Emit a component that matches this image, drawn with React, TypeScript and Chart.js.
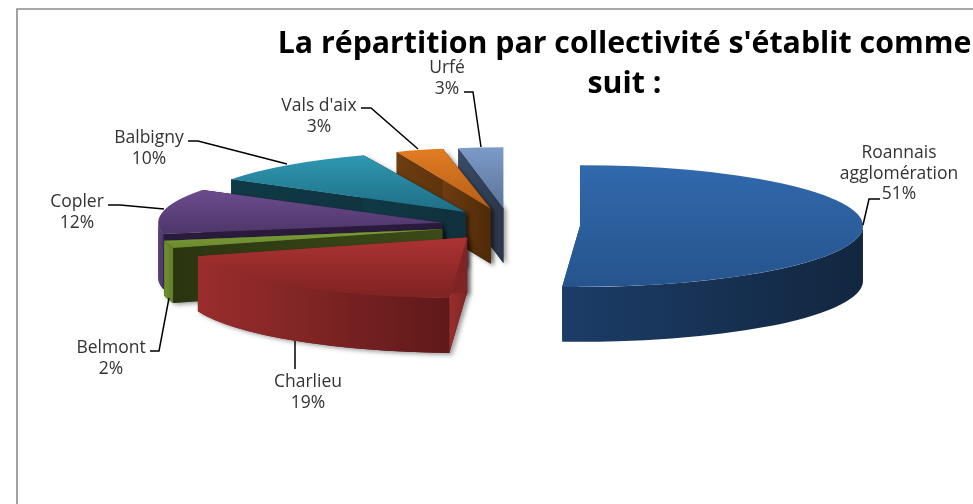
import React, { useEffect, useRef } from "react";
import Chart from "chart.js/auto";

const categories = ["Roannais agglomération", "Charlieu", "Belmont", "Copler", "Balbigny", "Vals d'aix", "Urfé"];
const shares = [51, 19, 2, 12, 10, 3, 3];
const titleLines = ["La répartition par collectivité s'établit comme", "suit :"];

// Style: [top light, top dark, wall left, wall right, cut face light, cut face dark]
const shades = [
  ["#3169ad", "#26548d", "#1c3d68", "#12263f", "#1c3d68", "#1c3d68"],
  ["#ac3333", "#7e2222", "#9a2d2d", "#5f1919", "#9a2e2e", "#7e2424"],
  ["#7c9c36", "#6c8b30", "#70912f", "#5f7f2a", "#2a3510", "#3c4a18"],
  ["#6d4c8e", "#4d3568", "#5c4079", "#4d3568", "#2a1a3c", "#2a1a3c"],
  ["#2f98b3", "#1e6e84", "#1c6477", "#14505f", "#0f3a46", "#10303c"],
  ["#e27c22", "#b55e18", "#6e3d10", "#4e2a08", "#6e3d10", "#4e2a08"],
  ["#7c9bc9", "#5b7499", "#3a4c66", "#2a3649", "#3a4c66", "#2a3649"],
];

// Perspective stand-ins: far slices look narrower and sit a little higher
const narrow = [1, 1, 1, 1, 0.98, 0.9, 0.85];
const lift = [0, 0, 0, 0, -2, -2.5, -2.5];
const castsShadow = [false, true, true, true, true, true, true];

// Painter's order, back to front
const drawOrder = [6, 5, 4, 3, 2, 1, 0];

// Label layout: text centre, first line middle y, leader polyline
const labelLayout = [
  { x: 899, y: 153, lines: ["Roannais", "agglomération"], leader: [[880, 199], [869, 199], [863, 225]] },
  { x: 308, y: 382, lines: ["Charlieu"], leader: [[295, 369], [295, 341]] },
  { x: 111, y: 348, lines: ["Belmont"], leader: [[150, 351], [159, 351], [169, 298]] },
  { x: 77, y: 202, lines: ["Copler"], leader: [[108, 205], [120, 205], [164, 209]] },
  { x: 149, y: 138, lines: ["Balbigny"], leader: [[188, 141], [198, 141], [287, 164]] },
  { x: 319, y: 106, lines: ["Vals d'aix"], leader: [[361, 108], [371, 108], [418, 149]] },
  { x: 447, y: 68, lines: ["Urfé"], leader: [[464, 92], [473, 92], [481, 147]] },
];

const PIE = { cx: 510, cy: 225.5, radius: 283, squash: 0.215, explode: 70, depth: 55 };
const LABEL_FONT = '17.5px "Open Sans"';

const pie3d = {
  id: "pie3d",
  beforeDatasetDraw(chart: any) {
    const ctx = chart.ctx as CanvasRenderingContext2D;
    const arcs = chart.getDatasetMeta(0).data;
    const { cx, cy, squash, explode, depth } = PIE;
    drawOrder.forEach((i) => {
      const el = arcs[i];
      const R = el.outerRadius;
      const s = el.startAngle;
      const e = el.endAngle;
      const mid = (s + e) / 2;
      const ax = cx + Math.cos(mid) * explode;
      const ay = cy + Math.sin(mid) * explode * squash + lift[i];
      const rim = (a: number) => [ax + Math.cos(a) * R * narrow[i], ay + Math.sin(a) * R * squash];
      const [topL, topD, wallL, wallR, faceL, faceD] = shades[i];

      const lo = Math.max(s, 0);
      const hi = Math.min(e, Math.PI);

      const facePath = (a: number) => {
        const [rx, ry] = rim(a);
        ctx.beginPath();
        ctx.moveTo(ax, ay);
        ctx.lineTo(rx, ry);
        ctx.lineTo(rx, ry + depth);
        ctx.lineTo(ax, ay + depth);
        ctx.closePath();
      };
      const wallPath = () => {
        ctx.beginPath();
        ctx.ellipse(ax, ay, R, R * squash, 0, lo, hi);
        ctx.ellipse(ax, ay + depth, R, R * squash, 0, hi, lo, true);
        ctx.closePath();
      };

      // soft drop shadow under the extruded part
      if (castsShadow[i]) {
        ctx.save();
        ctx.shadowColor = "rgba(0,0,0,0.38)";
        ctx.shadowBlur = 4;
        ctx.shadowOffsetX = 3;
        ctx.shadowOffsetY = 2;
        ctx.fillStyle = wallR;
        facePath(s);
        ctx.fill();
        facePath(e);
        ctx.fill();
        if (lo < hi) {
          wallPath();
          ctx.fill();
        }
        ctx.restore();
      }

      // cut faces
      [s, e].forEach((a) => {
        const [rx] = rim(a);
        const g = ctx.createLinearGradient(Math.min(rx, ax), 0, Math.max(rx, ax) + 1, 0);
        g.addColorStop(0, faceL);
        g.addColorStop(1, faceD);
        ctx.fillStyle = g;
        facePath(a);
        ctx.fill();
      });

      // outer wall
      if (lo < hi) {
        const xa = rim(lo)[0];
        const xb = rim(hi)[0];
        const g = ctx.createLinearGradient(Math.min(xa, xb), 0, Math.max(xa, xb), 0);
        g.addColorStop(0, wallL);
        g.addColorStop(1, wallR);
        ctx.fillStyle = g;
        wallPath();
        ctx.fill();
      }

      // top face: the library's own arc element, squashed and moved out
      let minY = 0;
      let maxY = 0;
      for (let k = 0; k <= 40; k++) {
        const y = Math.sin(s + ((e - s) * k) / 40) * R;
        minY = Math.min(minY, y);
        maxY = Math.max(maxY, y);
      }
      const grad = ctx.createLinearGradient(0, el.y + minY, 0, el.y + maxY);
      grad.addColorStop(0, topL);
      grad.addColorStop(1, topD);
      const saved = el.options;
      el.options = { ...saved, backgroundColor: grad, borderWidth: 0 };
      ctx.save();
      ctx.translate(ax, ay);
      ctx.scale(narrow[i], squash);
      ctx.translate(-el.x, -el.y);
      el.draw(ctx);
      ctx.restore();
      el.options = saved;
    });
    return false;
  },
  afterDatasetsDraw(chart: any) {
    const ctx = chart.ctx as CanvasRenderingContext2D;
    ctx.save();
    // frame
    ctx.strokeStyle = "#8c8c8c";
    ctx.lineWidth = 1.6;
    ctx.beginPath();
    ctx.moveTo(17, 504);
    ctx.lineTo(17, 9);
    ctx.lineTo(973, 9);
    ctx.stroke();
    // labels
    labelLayout.forEach((lab, i) => {
      ctx.strokeStyle = "#000";
      ctx.lineWidth = 1.5;
      ctx.beginPath();
      lab.leader.forEach(([x, y], k) => (k ? ctx.lineTo(x, y) : ctx.moveTo(x, y)));
      ctx.stroke();
      ctx.fillStyle = "#333333";
      ctx.font = LABEL_FONT;
      ctx.textAlign = "center";
      ctx.textBaseline = "middle";
      [...lab.lines, `${shares[i]}%`].forEach((t, k) => ctx.fillText(t, lab.x, lab.y + k * 20.7));
    });
    ctx.restore();
  },
};

export default function App() {
  const ref = useRef<HTMLCanvasElement>(null);
  useEffect(() => {
    const chart = new Chart(ref.current as HTMLCanvasElement, {
      type: "pie",
      data: {
        labels: categories,
        datasets: [{ data: shares, backgroundColor: shades.map((c) => c[0]), borderWidth: 0 }],
      },
      options: {
        animation: false,
        responsive: false,
        radius: PIE.radius,
        layout: { padding: { left: 276, right: 0, top: 0, bottom: 0 } },
        plugins: {
          legend: { display: false },
          tooltip: { enabled: false },
          title: {
            display: true,
            text: titleLines,
            fullSize: false,
            color: "#000",
            font: { family: '"Open Sans"', size: 30.3, weight: "bold", lineHeight: 1.32 },
            padding: { top: 24, bottom: 4 },
          },
        },
      } as any,
      plugins: [pie3d],
    });
    return () => chart.destroy();
  }, []);
  return (
    <div style={{ position: "fixed", left: 0, top: 0, width: 973, height: 504, background: "#fff" }}>
      <canvas ref={ref} width={973} height={504} style={{ display: "block" }} />
    </div>
  );
}
